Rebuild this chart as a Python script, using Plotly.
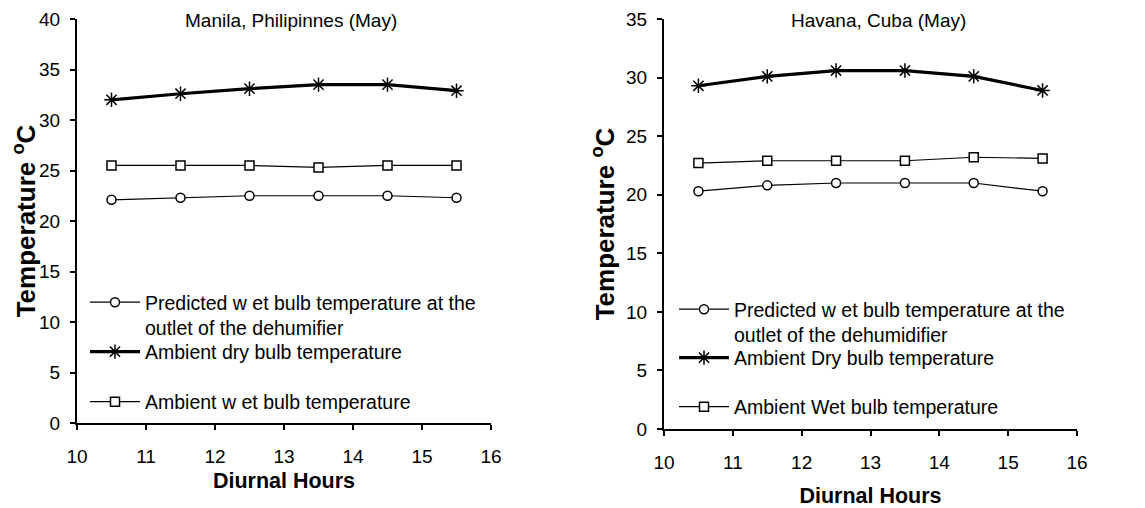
import plotly.graph_objects as go

hours = [10.5, 11.5, 12.5, 13.5, 14.5, 15.5]

manila_pred = [22.1, 22.3, 22.5, 22.5, 22.5, 22.3]
manila_dry = [32.0, 32.6, 33.1, 33.5, 33.5, 32.9]
manila_wet = [25.5, 25.5, 25.5, 25.3, 25.5, 25.5]

havana_pred = [20.3, 20.8, 21.0, 21.0, 21.0, 20.3]
havana_dry = [29.3, 30.1, 30.6, 30.6, 30.1, 28.9]
havana_wet = [22.7, 22.9, 22.9, 22.9, 23.2, 23.1]

titles = ["Manila, Philipinnes (May)", "Havana, Cuba (May)"]
names_left = ["Predicted w et bulb temperature at the<br>outlet of the dehumifier",
              "Ambient dry bulb temperature",
              "Ambient w et bulb temperature"]
names_right = ["Predicted w et bulb temperature at the<br>outlet of the dehumidifier",
               "Ambient Dry bulb temperature",
               "Ambient Wet bulb temperature"]

# page body has an 8px margin, so the figure is 8px smaller than the window
OFF = 8
FW, FH = 1145 - OFF, 508 - OFF
FONT = "Liberation Sans, Arial, sans-serif"

fig = go.Figure()


def px2x(p):
    return (p - OFF) / FW


def px2y(p):
    return 1 - (p - OFF) / FH


specs = [
    dict(xa="x", ya="y", data=[manila_pred, manila_dry, manila_wet], names=names_left,
         legends=["legend", "legend2", "legend3"]),
    dict(xa="x2", ya="y2", data=[havana_pred, havana_dry, havana_wet], names=names_right,
         legends=["legend4", "legend5", "legend6"]),
]

styles = [
    dict(symbol="circle", size=9, lw=1.2, fill="white"),
    dict(symbol="asterisk-open", size=12, lw=3.2, fill="black"),
    dict(symbol="square", size=9, lw=1.2, fill="white"),
]

for sp in specs:
    for vals, name, lg, st in zip(sp["data"], sp["names"], sp["legends"], styles):
        fig.add_trace(go.Scatter(
            x=hours, y=vals, name=name, mode="lines+markers",
            xaxis=sp["xa"], yaxis=sp["ya"], legend=lg, showlegend=True,
            line=dict(color="black", width=st["lw"]),
            marker=dict(symbol=st["symbol"], size=st["size"], color=st["fill"],
                        line=dict(color="black", width=1.5)),
        ))

axis_common = dict(
    showgrid=False, zeroline=False, showline=True, linecolor="black", linewidth=2,
    ticks="outside", ticklen=5, tickwidth=1.5, tickcolor="black", automargin=False,
    tickfont=dict(family=FONT, size=19, color="black"),
)
xt = dict(ticklabelstandoff=10, **axis_common)
yt = dict(ticklabelstandoff=6, **axis_common)
xfont = dict(family=FONT, size=21.5, color="black")
yfont = dict(family=FONT, size=26, color="black")

fig.update_layout(
    width=FW, height=FH,
    margin=dict(l=0, r=0, t=0, b=0, autoexpand=False),
    paper_bgcolor="white", plot_bgcolor="white",
    font=dict(family=FONT, color="black"),
    showlegend=True,
    xaxis=dict(domain=[px2x(77), px2x(491)], range=[10, 16], dtick=1, anchor="y",
               title=dict(text="<b>Diurnal Hours</b>", font=xfont, standoff=7), **xt),
    yaxis=dict(domain=[px2y(423), px2y(19)], range=[0, 40], dtick=5, anchor="x",
               title=dict(text="<b>Temperature <sup>o</sup>C</b>", font=yfont, standoff=15), **yt),
    xaxis2=dict(domain=[px2x(664), px2x(1077)], range=[10, 16], dtick=1, anchor="y2",
                title=dict(text="<b>Diurnal Hours</b>", font=xfont, standoff=18), **xt),
    yaxis2=dict(domain=[px2y(429), px2y(19)], range=[0, 35], dtick=5, anchor="x2",
                title=dict(text="<b>Temperature <sup>o</sup>C</b>", font=yfont, standoff=4), **yt),
    annotations=[
        dict(text=titles[0], x=px2x(291), y=px2y(20), xref="paper", yref="paper",
             xanchor="center", yanchor="middle",
             showarrow=False, font=dict(size=19, family=FONT, color="black")),
        dict(text=titles[1], x=px2x(878), y=px2y(20), xref="paper", yref="paper",
             xanchor="center", yanchor="middle",
             showarrow=False, font=dict(size=19, family=FONT, color="black")),
    ],
)

leg_font = dict(family=FONT, size=19.5, color="black")
leg_pos = {
    "legend": (85, 283, "top"), "legend2": (85, 352, "middle"), "legend3": (85, 402, "middle"),
    "legend4": (674, 290, "top"), "legend5": (674, 358, "middle"), "legend6": (674, 407, "middle"),
}
for lg, (lx, ly, ya) in leg_pos.items():
    fig.update_layout({lg: dict(x=px2x(lx), y=px2y(ly), xanchor="left", yanchor=ya,
                                xref="paper", yref="paper", valign="top", visible=True,
                                itemwidth=50,
                                bgcolor="rgba(0,0,0,0)", font=leg_font, borderwidth=0)})

fig.write_html("out.html")
